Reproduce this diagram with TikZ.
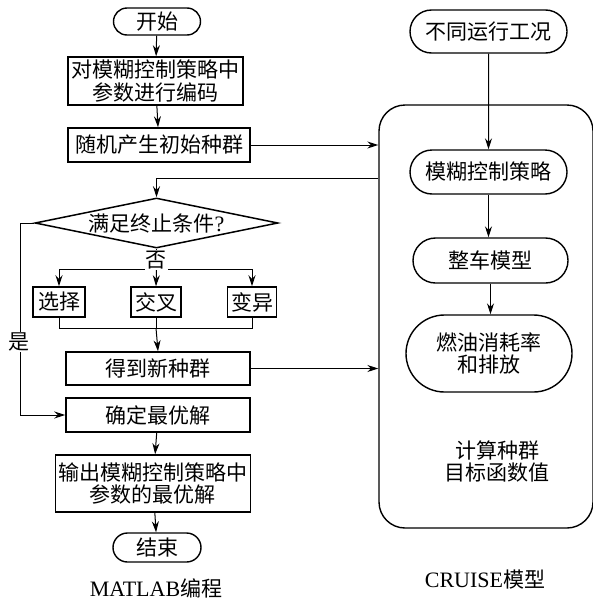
\documentclass[tikz,border=0pt]{standalone}
\usepackage{fontspec}
\setmainfont{Liberation Serif}
\newfontfamily\cjk{Noto Sans CJK SC}
\usetikzlibrary{shapes.geometric,shapes.misc,arrows.meta}
\begin{document}
\begin{tikzpicture}[x=1pt,y=-1pt,
  every node/.style={font=\cjk\fontsize{21}{22.5}\selectfont, inner sep=0pt, align=center},
  box/.style={draw, line width=1.5pt, rectangle},
  term/.style={draw, line width=1.4pt, rounded rectangle},
  conn/.style={line width=1pt, -{Stealth[length=11pt,width=7pt]}},
  line/.style={line width=1pt},
  lbl/.style={fill=white, inner sep=1pt}]
\useasboundingbox (0,0) rectangle (593,600);
% left column
\node[term, minimum width=87pt, minimum height=27pt] (start) at (157,21.5) {开始};
\node[box, minimum width=175pt, minimum height=48pt] (b1) at (155.5,81) {对模糊控制策略中\\参数进行编码};
\node[box, minimum width=182pt, minimum height=34pt] (b2) at (159,145) {随机产生初始种群};
\node[diamond, draw, line width=1.5pt, minimum width=243pt, minimum height=50pt] (dia) at (156.5,223) {};
\node (diat) at (dia.center) {满足终止条件{\rmfamily\fontsize{22}{22}\selectfont ?}};
\node[box, minimum width=52pt, minimum height=30pt] (sel) at (59,302) {选择};
\node[box, minimum width=50pt, minimum height=30pt] (cross) at (156,302) {交叉};
\node[box, minimum width=49pt, minimum height=30pt] (mut) at (252,302) {变异};
\node[box, minimum width=184pt, minimum height=33pt] (new) at (158,368.5) {得到新种群};
\node[box, minimum width=184pt, minimum height=34pt] (best) at (158,415) {确定最优解};
\node[box, minimum width=195pt, minimum height=57pt] (out) at (153,483.5) {输出模糊控制策略中\\参数的最优解};
\node[term, minimum width=88pt, minimum height=29pt] (end) at (157,547.5) {结束};
\node (matlab) at (156,588) {{\rmfamily\fontsize{22}{22}\selectfont MATLAB}编程};
% right column
\node[draw, line width=1.4pt, rounded corners=26pt, minimum width=214pt, minimum height=423pt] (big) at (486,316.5) {};
\node[term, minimum width=157pt, minimum height=43pt] (cond) at (488.5,31.5) {不同运行工况};
\node[term, minimum width=157pt, minimum height=44pt] (fuzzy) at (488.5,172) {模糊控制策略};
\node[term, minimum width=155pt, minimum height=45pt] (veh) at (490.5,260.5) {整车模型};
\node[term, minimum width=166pt, minimum height=77pt] (fuel) at (489,353.5) {燃油消耗率\\和排放};
\node (calc) at (497,461.5) {计算种群\\目标函数值};
\node (cruise) at (485,580) {{\rmfamily\fontsize{22}{22}\selectfont CRUISE}模型};
% connectors left
\draw[conn] (start) -- (b1);
\draw[conn] (b1) -- (b2);
\draw[conn] (b2.east) -- (b2.east -| big.west);
\coordinate (fbR) at (big.west |- 0,178);
\coordinate (fbL) at (dia.north |- 0,178);
\draw[conn] (fbR) -- (fbL) -- (dia.north);
\coordinate (jn) at (dia.south |- 0,269);
\coordinate (jl) at (sel.north |- 0,269);
\coordinate (jr) at (mut.north |- 0,269);
\draw[line] (dia.south) -- (jn);
\draw[line] (jl) -- (jr);
\draw[conn] (jl) -- (sel.north);
\draw[conn] (jn) -- (cross.north);
\draw[conn] (jr) -- (mut.north);
\node[lbl] (no) at (156,260) {否};
\coordinate (ml) at (sel.south |- 0,328);
\coordinate (mr) at (mut.south |- 0,328);
\coordinate (mc) at (cross.south |- 0,328);
\draw[line] (sel.south) -- (ml) -- (mr) -- (mut.south);
\draw[line] (cross.south) -- (mc);
\draw[conn] (mc) -- (new.north);
\draw[conn] (new.east) -- (new.east -| big.west);
\coordinate (yl) at (20,223);
\draw[conn] (dia.west) -- (yl) |- (best.west);
\node[lbl] (yes) at (19,342) {是};
\draw[conn] (best) -- (out);
\draw[conn] (out) -- (end);
% connectors right
\draw[conn] (cond) -- (fuzzy);
\draw[conn] (fuzzy.south) -- (fuzzy.south |- veh.north);
\draw[conn] (veh.south) -- (veh.south |- fuel.north);
\end{tikzpicture}
\end{document}
